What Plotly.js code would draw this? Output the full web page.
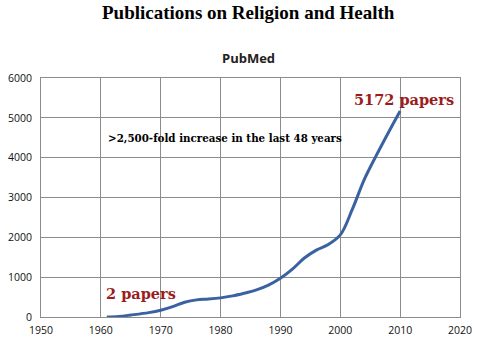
<!DOCTYPE html>
<html><head><meta charset="utf-8">
<script src="https://cdn.plot.ly/plotly-3.0.1.min.js"></script>
<style>html,body{margin:0;padding:0;background:#fff;}#chart{width:479px;height:339px;}</style>
</head><body><div id="chart"></div>
<script>
const years = [1961,1963,1965,1968,1970,1972,1974,1976,1978,1980,1982,1984,1986,1988,1990,1992,1994,1996,1998,2000,2002,2004,2006,2008,2010];
const publications = [2,15,50,110,170,260,370,430,450,480,530,600,680,800,970,1200,1480,1680,1820,2060,2700,3450,4050,4620,5172];
const xTicks = [1950,1960,1970,1980,1990,2000,2010,2020];
const yTicks = [0,1000,2000,3000,4000,5000,6000];

const trace = {x: years, y: publications, type:'scatter', mode:'lines',
  line:{color:'#3a62a0', width:3, shape:'spline', smoothing:1}, hoverinfo:'skip'};

const axisCommon = {showgrid:true, gridcolor:'#8c8c8c', gridwidth:1, showline:true, linecolor:'#8c8c8c', linewidth:1, mirror:true, zeroline:false, ticks:'', tickfont:{family:'Open Sans, Liberation Sans, sans-serif', size:10.5, color:'#111'}};

const layout = {
  width:479, height:339, margin:{l:41, r:19, t:78, b:22},
  paper_bgcolor:'#fff', plot_bgcolor:'#fff', showlegend:false,
  xaxis: Object.assign({}, axisCommon, {range:[1950,2020], tickvals:xTicks, ticktext:xTicks.map(String), ticklabelstandoff:3}),
  yaxis: Object.assign({}, axisCommon, {range:[0,6000], tickvals:yTicks, ticktext:yTicks.map(String), ticklabelstandoff:6}),
  annotations:[
    {text:'<b>Publications on Religion and Health</b>', xref:'paper', yref:'paper', x:0.496, y:1, yshift:66, xanchor:'center', yanchor:'middle', showarrow:false, font:{family:'Liberation Serif, serif', size:19, color:'#000'}},
    {text:'<b>PubMed</b>', xref:'paper', yref:'paper', x:0.496, y:1, yshift:20, xanchor:'center', yanchor:'middle', showarrow:false, font:{family:'Open Sans, sans-serif', size:13, color:'#222'}},
    {text:'<b>>2,500-fold increase in the last 48 years</b>', xref:'x', yref:'y', x:1960.8, y:4500, xanchor:'left', yanchor:'middle', showarrow:false, font:{family:'DejaVu Serif, serif', size:10.3, color:'#000'}},
    {text:'<b>5172 papers</b>', xref:'x', yref:'y', x:2010.7, y:5460, xanchor:'center', yanchor:'middle', showarrow:false, font:{family:'DejaVu Serif, serif', size:14.5, color:'#9b1c1c'}},
    {text:'<b>2 papers</b>', xref:'x', yref:'y', x:1960.6, y:600, xanchor:'left', yanchor:'middle', showarrow:false, font:{family:'DejaVu Serif, serif', size:14.5, color:'#9b1c1c'}}
  ]
};
Plotly.newPlot('chart', [trace], layout, {staticPlot:true, displayModeBar:false});
</script></body></html>
